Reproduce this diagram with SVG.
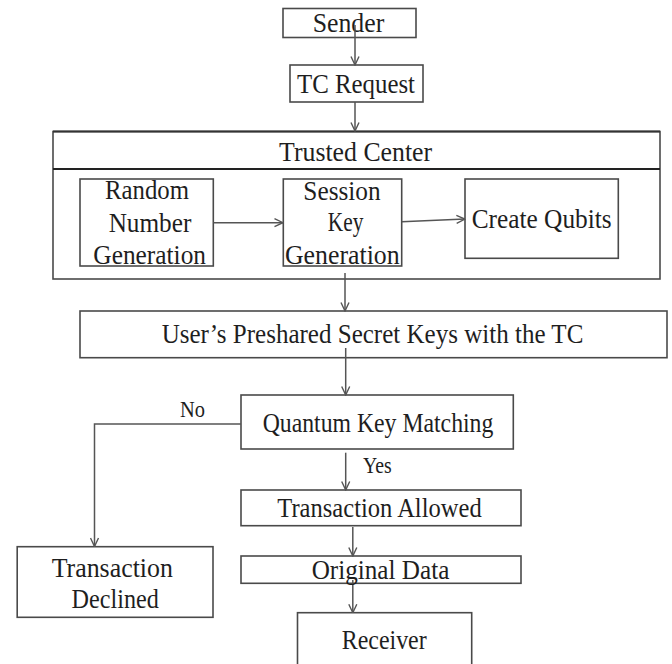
<svg xmlns="http://www.w3.org/2000/svg" width="672" height="664" viewBox="0 0 672 664">
<defs>
<style>
.box{fill:#fff;stroke:#4a4a4a;stroke-width:1.6}
.t{font-family:"Liberation Serif","Times New Roman",serif;font-size:27.5px;fill:#1e1e1e;text-anchor:middle}
.s{font-size:24px}
.c{fill:none;stroke:#555;stroke-width:1.5}
</style>
<marker id="ah" viewBox="0 0 10 10" refX="9.5" refY="5" markerWidth="10" markerHeight="10" markerUnits="userSpaceOnUse" orient="auto">
<path d="M1,1 L9.5,5 L1,9" fill="none" stroke="#555" stroke-width="1.4"/>
</marker>
</defs>
<rect width="672" height="664" fill="#fff"/>

<g id="sender">
<rect class="box" x="283" y="8.5" width="133" height="29"/>
<text class="t" x="348.5" y="32.3" textLength="71.6" lengthAdjust="spacingAndGlyphs">Sender</text>
</g>
<g id="tc-request">
<rect class="box" x="290" y="65" width="133" height="37"/>
<text class="t" x="356" y="93.3" textLength="118" lengthAdjust="spacingAndGlyphs">TC Request</text>
</g>
<g id="trusted-center">
<rect class="box" x="53" y="131.5" width="607" height="147.5"/>
<line x1="53" y1="169" x2="660" y2="169" stroke="#222" stroke-width="2"/>
<line x1="53" y1="131.5" x2="660" y2="131.5" stroke="#333" stroke-width="1.8"/>
<text class="t" x="355.6" y="160.7" textLength="153" lengthAdjust="spacingAndGlyphs">Trusted Center</text>
</g>
<g id="random-number">
<rect class="box" x="80" y="179" width="133.3" height="87"/>
<text class="t" x="147" y="199.3" textLength="84" lengthAdjust="spacingAndGlyphs">Random</text>
<text class="t" x="150" y="231.7" textLength="82.7" lengthAdjust="spacingAndGlyphs">Number</text>
<text class="t" x="149.7" y="264" textLength="112.7" lengthAdjust="spacingAndGlyphs">Generation</text>
</g>
<g id="session-key">
<rect class="box" x="283.3" y="179" width="118.4" height="87"/>
<text class="t" x="342" y="200" textLength="77.3" lengthAdjust="spacingAndGlyphs">Session</text>
<text class="t" x="345.6" y="230.7" textLength="35.6" lengthAdjust="spacingAndGlyphs">Key</text>
<text class="t" x="342.3" y="264" textLength="114.7" lengthAdjust="spacingAndGlyphs">Generation</text>
</g>
<g id="create-qubits">
<rect class="box" x="465" y="179" width="153.3" height="79.3"/>
<text class="t" x="541.7" y="228.3" textLength="140" lengthAdjust="spacingAndGlyphs">Create Qubits</text>
</g>
<g id="preshared-keys">
<rect class="box" x="80" y="311" width="587" height="46.7"/>
<text class="t" x="372.5" y="343" textLength="421.7" lengthAdjust="spacingAndGlyphs">User’s Preshared Secret Keys with the TC</text>
</g>
<g id="quantum-key-matching">
<rect class="box" x="241" y="395" width="272.3" height="54"/>
<text class="t" x="378" y="431.7" textLength="230.7" lengthAdjust="spacingAndGlyphs">Quantum Key Matching</text>
</g>
<g id="transaction-allowed">
<rect class="box" x="241" y="490" width="280" height="35.7"/>
<text class="t" x="379.5" y="516.7" textLength="204.4" lengthAdjust="spacingAndGlyphs">Transaction Allowed</text>
</g>
<g id="transaction-declined">
<rect class="box" x="17.2" y="546.7" width="195.8" height="70.6"/>
<text class="t" x="112.3" y="576.7" textLength="121.3" lengthAdjust="spacingAndGlyphs">Transaction</text>
<text class="t" x="115.2" y="608.3" textLength="87.2" lengthAdjust="spacingAndGlyphs">Declined</text>
</g>
<g id="original-data">
<rect class="box" x="241" y="556" width="280" height="27.3"/>
</g>
<g id="receiver">
<rect class="box" x="297.5" y="612.7" width="174.2" height="60"/>
<text class="t" x="384.2" y="649.3" textLength="85" lengthAdjust="spacingAndGlyphs">Receiver</text>
</g>

<g id="connectors">
<line class="c" x1="355" y1="25" x2="355" y2="65" marker-end="url(#ah)"/>
<line class="c" x1="355" y1="102" x2="355" y2="131" marker-end="url(#ah)"/>
<line class="c" x1="213.3" y1="222.7" x2="283" y2="222.7" marker-end="url(#ah)"/>
<line class="c" x1="401.7" y1="221.7" x2="465" y2="219" marker-end="url(#ah)"/>
<line class="c" x1="345" y1="273" x2="345" y2="311" marker-end="url(#ah)"/>
<line class="c" x1="345.7" y1="348" x2="345.7" y2="395" marker-end="url(#ah)"/>
<line class="c" x1="345.7" y1="452.7" x2="345.7" y2="490" marker-end="url(#ah)"/>
<polyline class="c" points="241,424 94.5,424 94.5,546.5" marker-end="url(#ah)"/>
<line class="c" x1="352.8" y1="527" x2="352.8" y2="556" marker-end="url(#ah)"/>
<line class="c" x1="352.8" y1="580" x2="352.8" y2="612.7" marker-end="url(#ah)"/>
<text class="t s" x="192.5" y="417.3" textLength="25" lengthAdjust="spacingAndGlyphs">No</text>
<text class="t s" x="377.3" y="473" textLength="28.7" lengthAdjust="spacingAndGlyphs">Yes</text>
</g>
<text class="t" x="380.5" y="579.3" textLength="137.7" lengthAdjust="spacingAndGlyphs">Original Data</text>
</svg>
